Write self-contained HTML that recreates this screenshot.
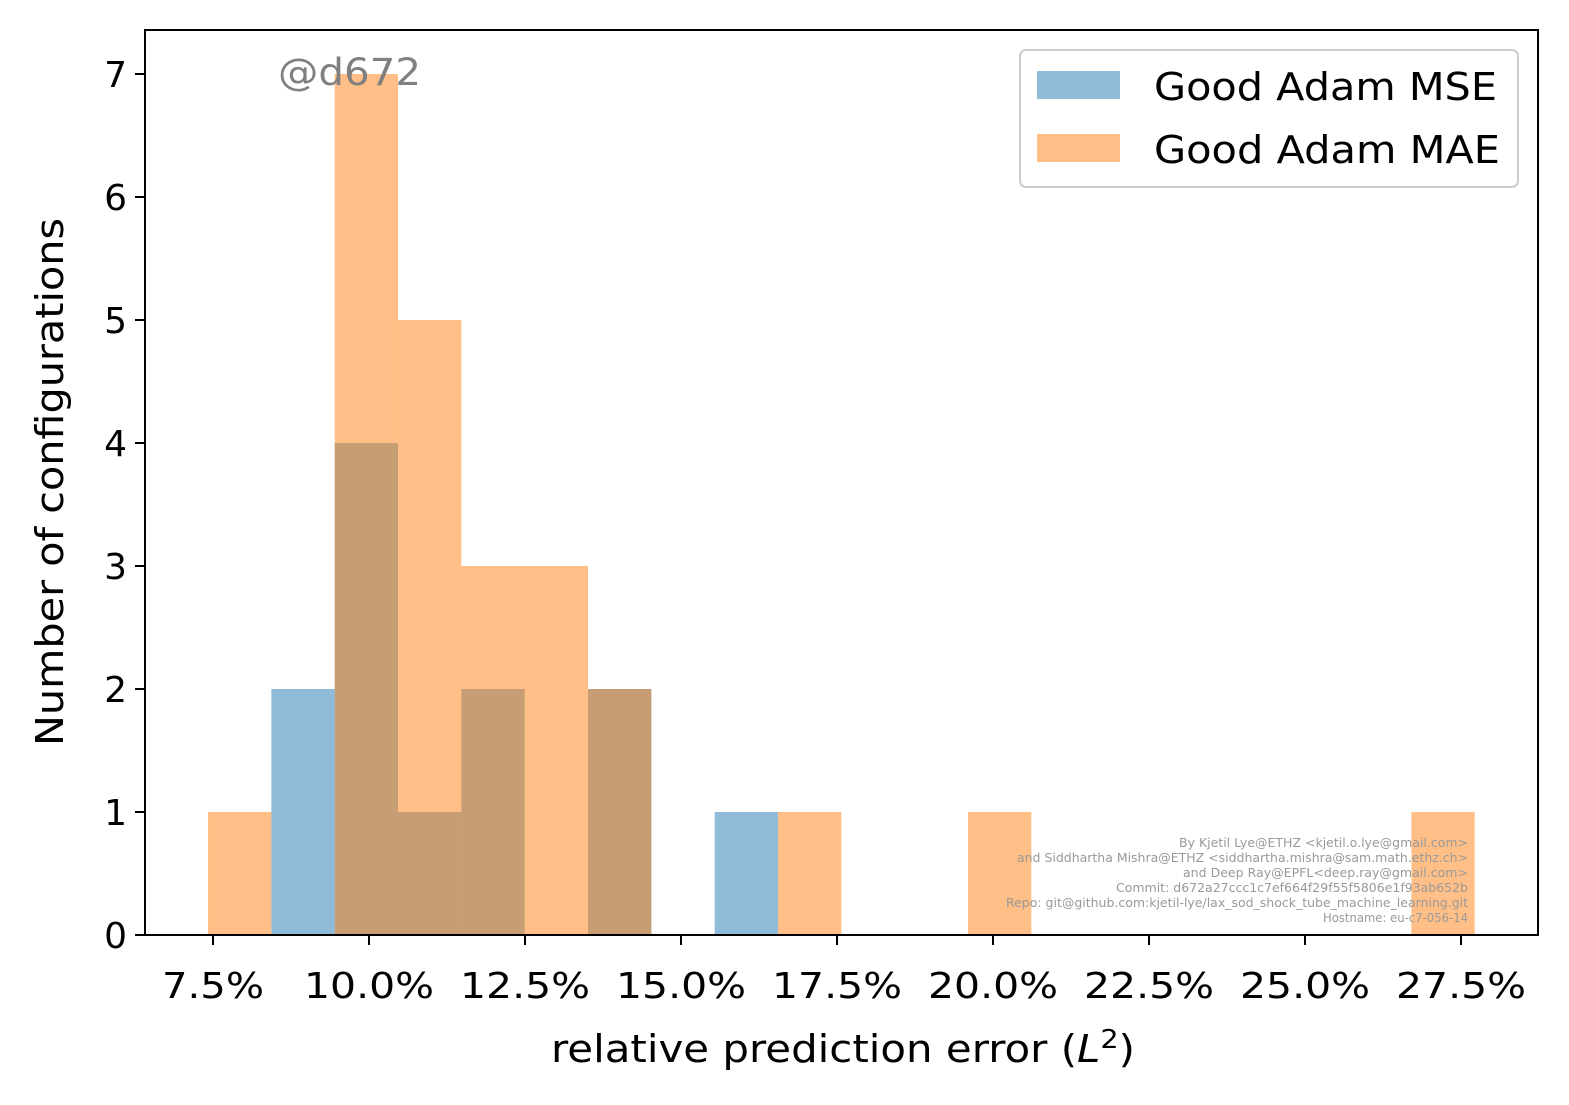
<!DOCTYPE html>
<html><head><meta charset="utf-8"><style>body{margin:0;background:#fff}svg{display:block;font-family:"DejaVu Sans","Liberation Sans",sans-serif}</style></head>
<body>
<svg id="chart" width="1569" height="1105" viewBox="0 0 1569 1105">
<rect width="1569" height="1105" fill="#fff"/>
<g id="bars"></g>
<g id="axes"></g>
<text x="278" y="85" font-size="37" fill="#808080" textLength="143" lengthAdjust="spacingAndGlyphs">@d672</text>
<g>
<rect x="1020" y="50" width="498" height="137" rx="6" fill="#fff" fill-opacity="0.8" stroke="#ccc" stroke-width="2"/>
<rect x="1037" y="71" width="83" height="28" fill="#1f77b4" fill-opacity="0.5"/>
<text x="1154" y="100" font-size="38" textLength="343" lengthAdjust="spacingAndGlyphs">Good Adam MSE</text>
<rect x="1037" y="134" width="83" height="28" fill="#ff7f0e" fill-opacity="0.5"/>
<text x="1154" y="163" font-size="38" textLength="346" lengthAdjust="spacingAndGlyphs">Good Adam MAE</text>
</g>
<g font-size="12" fill="#999" text-anchor="end">
<text x="1468" y="847" textLength="289" lengthAdjust="spacingAndGlyphs">By Kjetil Lye@ETHZ &lt;kjetil.o.lye@gmail.com&gt;</text>
<text x="1468" y="862" textLength="451" lengthAdjust="spacingAndGlyphs">and Siddhartha Mishra@ETHZ &lt;siddhartha.mishra@sam.math.ethz.ch&gt;</text>
<text x="1468" y="877" textLength="285" lengthAdjust="spacingAndGlyphs">and Deep Ray@EPFL&lt;deep.ray@gmail.com&gt;</text>
<text x="1468" y="892" textLength="352" lengthAdjust="spacingAndGlyphs">Commit: d672a27ccc1c7ef664f29f55f5806e1f93ab652b</text>
<text x="1468" y="907" textLength="462" lengthAdjust="spacingAndGlyphs">Repo: git@github.com:kjetil-lye/lax_sod_shock_tube_machine_learning.git</text>
<text x="1468" y="922" textLength="145" lengthAdjust="spacingAndGlyphs">Hostname: eu-c7-056-14</text>
</g>
<text x="551" y="1062" font-size="38" textLength="584" lengthAdjust="spacingAndGlyphs">relative prediction error (<tspan font-style="italic">L</tspan><tspan dy="-14" font-size="26">2</tspan><tspan dy="14">)</tspan></text>
<text transform="translate(63,746) rotate(-90)" font-size="38" textLength="528" lengthAdjust="spacingAndGlyphs">Number of configurations</text>
</svg>
<script>
const binStart = 7.42;
const binWidth = 1.015;
const mseCounts = [0,2,4,1,2,0,2,0,1,0,0,0,0,0,0,0,0,0,0,0];
const maeCounts = [1,0,7,5,3,3,2,0,0,1,0,0,1,0,0,0,0,0,0,1];
const xTicks = [7.5,10,12.5,15,17.5,20,22.5,25,27.5];
const yTicks = [0,1,2,3,4,5,6,7];
const L=145,R=1538,T=30,B=935;
const xs = v => 213 + (v-7.5)*62.4;
const ys = v => 935 - v*123;
const NS='http://www.w3.org/2000/svg';
const bars=document.getElementById('bars'), axes=document.getElementById('axes');
function mk(p,tag,a){const e=document.createElementNS(NS,tag);for(const k in a)e.setAttribute(k,a[k]);p.appendChild(e);return e;}
function drawSeries(counts,color,name){
  counts.forEach((c,i)=>{ if(!c) return;
    const x0=xs(binStart+i*binWidth), x1=xs(binStart+(i+1)*binWidth);
    const r=mk(bars,'rect',{x:x0,y:ys(c),width:x1-x0,height:ys(0)-ys(c),fill:color,'fill-opacity':0.5});
    
    
  });
}
drawSeries(mseCounts,'#1f77b4','mse');
drawSeries(maeCounts,'#ff7f0e','mae');
const frame=mk(axes,'rect',{x:L,y:T,width:R-L,height:B-T,fill:'none',stroke:'#000','stroke-width':2});


xTicks.forEach(v=>{
  const x=xs(v);
  mk(axes,'line',{x1:x,x2:x,y1:B,y2:B+10,stroke:'#000','stroke-width':2});
  const lbl=v.toFixed(1)+'%';
  const t=mk(axes,'text',{x:x,y:B+63,'font-size':36,'text-anchor':'middle',textLength:lbl.length===4?102:130,lengthAdjust:'spacingAndGlyphs'});
  t.textContent=lbl;
  
  
});
yTicks.forEach(v=>{
  const y=ys(v);
  mk(axes,'line',{x1:L-10,x2:L,y1:y,y2:y,stroke:'#000','stroke-width':2});
  const t=mk(axes,'text',{x:L-18,y:y+13,'font-size':36,'text-anchor':'end'});
  t.textContent=v;
  
  
});
</script>
</body></html>
